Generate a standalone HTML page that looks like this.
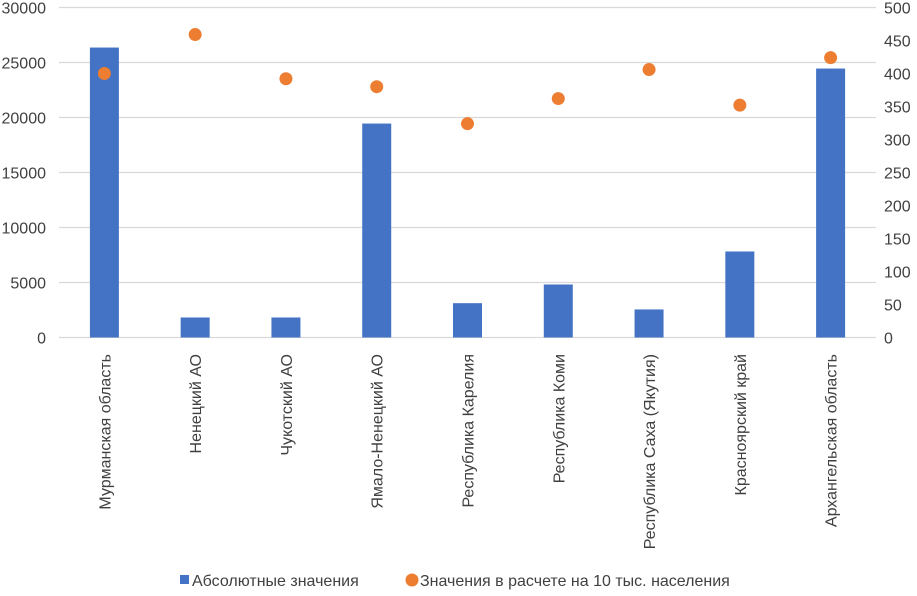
<!DOCTYPE html>
<html><head><meta charset="utf-8"><style>
body{margin:0;background:#fff;font-family:"Liberation Sans",sans-serif;}
</style></head><body>
<svg id="c" width="917" height="591" xmlns="http://www.w3.org/2000/svg"></svg>
<script>
const categories=["Мурманская область","Ненецкий АО","Чукотский АО","Ямало-Ненецкий АО","Республика Карелия","Республика Коми","Республика Саха (Якутия)","Красноярский край","Архангельская область"];
const absValues=[26360,1820,1820,19450,3120,4820,2550,7820,24450];
const perValues=[400,459,392,380,324,362,406,352,424];
const leftTicks=[0,5000,10000,15000,20000,25000,30000];
const rightTicks=[0,50,100,150,200,250,300,350,400,450,500];
const NS="http://www.w3.org/2000/svg";
const svg=document.getElementById('c');
const x0=59,x1=876,yb=337.5,yt=7.5;
const yL=v=>yb-(v/30000)*(yb-yt);
const yR=v=>yb-(v/500)*(yb-yt);
const band=(x1-x0)/categories.length;
const xc=i=>x0+band*(i+0.5);
function mk(t,a){const e=document.createElementNS(NS,t);for(const k in a)e.setAttribute(k,a[k]);svg.appendChild(e);return e;}
leftTicks.forEach(v=>{
 const g=mk('line',{x1:x0,x2:x1,y1:yL(v),y2:yL(v),stroke:'#d9d9d9','stroke-width':1.3});
 
 
 const t=mk('text',{x:46,y:yL(v)+6,'text-anchor':'end','font-size':16,fill:'#404040'});t.textContent=v;
 
 
});
rightTicks.forEach(v=>{
 const t=mk('text',{x:884,y:yR(v)+6,'font-size':16,fill:'#404040'});t.textContent=v;
 
 
});
categories.forEach((c,i)=>{
 const b=mk('rect',{x:xc(i)-14.5,y:yL(absValues[i]),width:29,height:yb-yL(absValues[i]),fill:'#4472c4'});
 
 
 const d=mk('circle',{cx:xc(i),cy:yR(perValues[i]),r:6.5,fill:'#ed7d31'});
 
 
 const t=mk('text',{x:0,y:0,'font-size':16,fill:'#404040','text-anchor':'end',transform:`translate(${xc(i)+6},354) rotate(-90)`});t.textContent=c;
 
 
});
const l1=mk('rect',{x:180,y:575,width:9,height:9,fill:'#4472c4'});


const lt1=mk('text',{x:192,y:586,'font-size':16,fill:'#404040'});lt1.textContent='Абсолютные значения';


const l2=mk('circle',{cx:412,cy:580,r:6.5,fill:'#ed7d31'});


const lt2=mk('text',{x:420,y:586,'font-size':16,fill:'#404040'});lt2.textContent='Значения в расчете на 10 тыс. населения';


</script>
</body></html>
